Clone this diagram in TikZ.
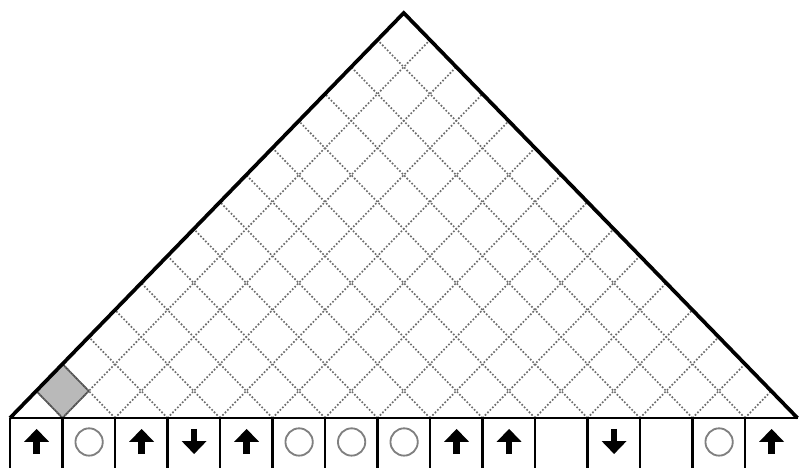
\documentclass[tikz,border=0pt]{standalone}
\usetikzlibrary{arrows.meta, positioning, calc}

\begin{document}
\begin{tikzpicture}[
    % Define cell and mark styles
    cell/.style={rectangle, minimum width=1cm, minimum height=1cm, inner sep=0pt, anchor=north west},
    wall/.style={line width=1.4pt, black},
    side/.style={line width=2pt, black},
    gridline/.style={gray!85!black, line width=0.9pt, densely dotted},
    upmark/.style={line width=3.6pt, -{Triangle[width=13pt, length=7pt]}},
    ringmark/.style={gray, line width=1pt},
    shaded/.style={fill=gray!55, draw=gray!60!black, line width=0.9pt},
]
\useasboundingbox (-0.1905,-0.952) rectangle (15.029,7.962);

% Drawing the row of cells
\foreach \i in {1,...,15} {
    \node[cell] (c\i) at (\i-1,0) {};
}

% Triangle with its diagonal grid
\begin{scope}[yscale=1.0286]
    \coordinate (L) at (0,0);
    \coordinate (R) at (15,0);
    \coordinate (T) at (7.5,7.5);
    \draw[shaded] (1,0) -- (0.5,0.5) -- (1,1) -- (1.5,0.5) -- cycle;
    \foreach \i in {1,...,14} {
        \draw[gridline] (\i,0) -- ({\i/2},{\i/2});
        \draw[gridline] (\i,0) -- ({(15+\i)/2},{(15-\i)/2});
    }
    \draw[side] (L) -- (T) -- (R);
\end{scope}

% Cell walls
\draw[wall] (c1.north west) -- (c15.north east);
\foreach \i in {1,...,15} {
    \draw[wall] (c\i.north west) -- (c\i.south west);
}

% Marks inside the cells
\foreach \i in {1,3,5,9,10,15} {
    \draw[upmark] ([yshift=-0.18cm]c\i.center) -- ([yshift=0.3cm]c\i.center);
}
\foreach \i in {4,12} {
    \draw[upmark] ([yshift=0.3cm]c\i.center) -- ([yshift=-0.18cm]c\i.center);
}
\foreach \i in {2,6,7,8,14} {
    \draw[ringmark] ([yshift=0.05cm]c\i.center) circle (0.26);
}

\end{tikzpicture}
\end{document}
